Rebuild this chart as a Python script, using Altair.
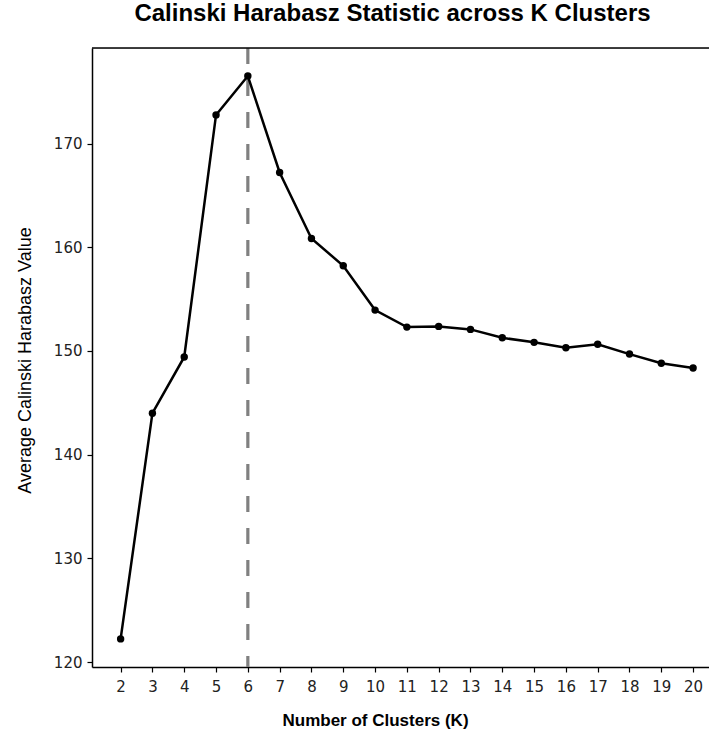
import altair as alt
import pandas as pd

# ---- data ----
k_values = [2, 3, 4, 5, 6, 7, 8, 9, 10, 11, 12, 13, 14, 15, 16, 17, 18, 19, 20]
ch_values = [122.24, 144.0, 149.42, 172.76, 176.51, 167.21, 160.85, 158.21, 153.94,
             152.30, 152.37, 152.08, 151.27, 150.83, 150.31, 150.64, 149.70, 148.81, 148.35]
best_k = [6]
y_ticks = [120, 130, 140, 150, 160, 170]
x_domain = [1.1, 20.5]
y_domain = [119.53, 179.21]

df = pd.DataFrame({"K": k_values, "CH": ch_values})
best_df = pd.DataFrame({"K": best_k})

W, H = 617, 619

x_scale = alt.Scale(domain=x_domain, nice=False, zero=False)
y_scale = alt.Scale(domain=y_domain, nice=False, zero=False)

x_axis = alt.Axis(
    values=k_values, format="d", grid=False, labelOverlap=False,
    title="Number of Clusters (K)",
    labelFont="DejaVu Sans", labelFontSize=15, labelColor="#222222", labelPadding=7,
    tickSize=5, tickColor="black", tickWidth=1.2,
    domainColor="black", domainWidth=1.5,
    titleFont="Liberation Sans", titleFontWeight="bold", titleFontSize=17, titleColor="black",
    titleX=283, titleY=58, titleBaseline="alphabetic", titleAlign="center",
)
y_axis = alt.Axis(
    values=y_ticks, format="d", grid=False, labelOverlap=False,
    title="Average Calinski Harabasz Value",
    labelFont="DejaVu Sans", labelFontSize=15, labelColor="#222222", labelPadding=5,
    tickSize=5, tickColor="black", tickWidth=1.2,
    domainColor="black", domainWidth=1.5,
    titleFont="Liberation Sans", titleFontWeight="normal", titleFontSize=18, titleColor="black",
    titleX=-62, titleY=312, titleBaseline="alphabetic", titleAlign="center", titleAngle=-90,
)

X = alt.X("K:Q", scale=x_scale, axis=x_axis)
Y = alt.Y("CH:Q", scale=y_scale, axis=y_axis)

vline = alt.Chart(best_df).mark_rule(
    color="#808080", strokeWidth=3.2, strokeDash=[16, 16]
).encode(x=X)

line = alt.Chart(df).mark_line(color="black", strokeWidth=2.5).encode(x=X, y=Y)

pts = alt.Chart(df).mark_circle(color="black", size=55, opacity=1).encode(x=X, y=Y)

top_border = alt.Chart(best_df).mark_rule(color="black", strokeWidth=1.5).encode(
    x=alt.value(0), x2=alt.value(W), y=alt.value(0)
)

chart = alt.layer(vline, line, pts, top_border).properties(
    width=W, height=H,
    title=alt.TitleParams(
        "Calinski Harabasz Statistic across K Clusters",
        font="Liberation Sans", fontWeight="bold", fontSize=24, color="black",
        anchor="middle", frame="group", dx=-8, dy=23, baseline="alphabetic", offset=24,
    ),
    autosize=alt.AutoSizeParams(type="none"),
    padding={"left": 92, "top": 48, "right": 0, "bottom": 64},
).configure_view(stroke=None).configure(background="white")

chart.save("out.html", embed_options={"renderer": "svg", "actions": False})
